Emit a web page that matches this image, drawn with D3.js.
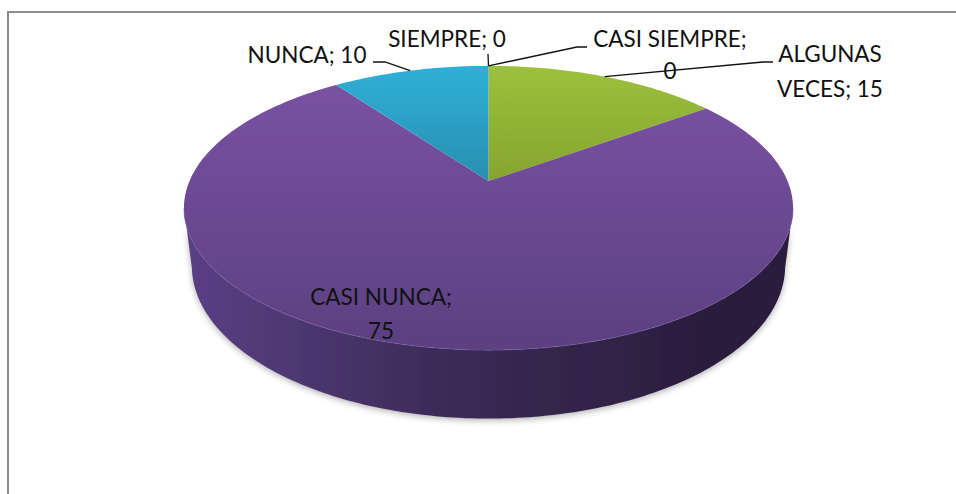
<!DOCTYPE html>
<html>
<head>
<meta charset="utf-8">
<script src="https://d3js.org/d3.v7.min.js"></script>
<style>
html,body{margin:0;padding:0;background:#fff;overflow:hidden}
svg{display:block}
text{font-family:Lato,"Open Sans",sans-serif;font-size:22.5px;fill:#111}
</style>
</head>
<body>
<div id="chart"></div>
<script>
const categories = ["SIEMPRE", "CASI SIEMPRE", "ALGUNAS VECES", "CASI NUNCA", "NUNCA"];
const values = [0, 0, 15, 75, 10];
const sliceTop = ["#d04a47", "#8a6d3b", "#9dc13d", "#7c53a6", "#2fb0d8"];
const sliceBottom = ["#b03a38", "#6f5730", "#85a42e", "#5b4080", "#2a8fb0"];
const labelLines = [["SIEMPRE; 0"], ["CASI SIEMPRE;", "0"], ["ALGUNAS", "VECES; 15"], ["CASI NUNCA;", "75"], ["NUNCA; 10"]];

const W = 956, H = 494;
// label placement: anchor x, first baseline, line gap, and leader elbow points
const labelLayout = [
  {x: 447, y: 47, gap: 0, leader: [[488, 54]]},
  {x: 670, y: 47, gap: 32, leader: [[587, 47], [577, 47]]},
  {x: 830, y: 62, gap: 35, leader: [[773, 62], [763, 62]]},
  {x: 381, y: 305, gap: 34, leader: null},
  {x: 307, y: 63, gap: 0, leader: [[373, 62], [385, 62]]}
];

const svg = d3.select("#chart").append("svg").attr("width", W).attr("height", H);
const defs = svg.append("defs");
defs.append("filter").attr("id", "shadow").attr("x", "-5%").attr("y", "-5%").attr("width", "110%").attr("height", "115%")
  .append("feGaussianBlur").attr("stdDeviation", 3);
defs.append("filter").attr("id", "soft").attr("x", "-2%").attr("y", "-2%").attr("width", "104%").attr("height", "104%")
  .append("feGaussianBlur").attr("stdDeviation", 0.6);

// perspective disc: plane coordinates projected on to the page
const cx = 488.5;
function projector(apexY, A, B, p) {
  return a => {
    const X = Math.sin(a), Y = Math.cos(a), w = 1 + p * Y;
    return [cx + A * X / w, apexY - B * Y / w];
  };
}
const topP = 0.19;
const topRim = projector(181, 299, 137, topP);
const bottomRim = projector(239, 292, 148, 0.176);
const line = d3.line();
const sample = (f, a0, a1) => {
  const n = Math.max(2, Math.ceil(Math.abs(a1 - a0) * 60));
  return d3.range(n + 1).map(i => f(a0 + (a1 - a0) * i / n));
};

// frame
svg.append("path").attr("d", `M${W},12H8V${H}`).attr("fill", "none").attr("stroke", "#8c8c8c").attr("stroke-width", 2);

// wall
const ext = Math.acos(-topP);
const wallPts = sample(topRim, ext, 2 * Math.PI - ext).concat(sample(bottomRim, 2 * Math.PI - ext, ext));
svg.append("path").attr("d", line(wallPts) + "Z").attr("fill", "#999").attr("opacity", 0.75)
  .attr("transform", "translate(0,2)").attr("filter", "url(#shadow)");

const wallGrad = defs.append("linearGradient").attr("id", "wall").attr("gradientUnits", "userSpaceOnUse")
  .attr("x1", cx - 300).attr("x2", cx + 300).attr("y1", 0).attr("y2", 0);
[[0, "#5a3f85"], [0.18, "#4d3771"], [0.42, "#3c2b58"], [0.62, "#33254a"], [0.85, "#2c1d3e"], [1, "#2a1b3c"]]
  .forEach(s => wallGrad.append("stop").attr("offset", s[0]).attr("stop-color", s[1]));
const pieG = svg.append("g").attr("filter", "url(#soft)");
pieG.append("path").attr("d", line(wallPts) + "Z").attr("fill", "url(#wall)");

// slices
const pie = d3.pie().sort(null).value(d => d)(values);
categories.forEach((c, i) => {
  const g = defs.append("linearGradient").attr("id", "s" + i).attr("gradientUnits", "userSpaceOnUse")
    .attr("x1", 0).attr("x2", 0).attr("y1", 65).attr("y2", i === 3 ? 350 : 181);
  g.append("stop").attr("offset", 0).attr("stop-color", sliceTop[i]);
  g.append("stop").attr("offset", 1).attr("stop-color", sliceBottom[i]);
});
pieG.selectAll("path.slice").data(pie).join("path").attr("class", "slice")
  .attr("d", d => {
    if (d.endAngle === d.startAngle) return null;
    return "M" + cx + ",181L" + line(sample(topRim, d.startAngle, d.endAngle)).slice(1) + "Z";
  })
  .attr("fill", (d, i) => `url(#s${i})`);
// faint lit rim on the front edge
pieG.append("path").attr("d", line(sample(topRim, ext, 2 * Math.PI - ext))).attr("fill", "none")
  .attr("stroke", "#7d5fa8").attr("stroke-width", 1).attr("opacity", 0.5);

// leader lines start from each slice's rim midpoint
pie.forEach((d, i) => {
  const L = labelLayout[i];
  if (!L.leader) return;
  const pts = [topRim((d.startAngle + d.endAngle) / 2), ...L.leader.slice().reverse()];
  svg.append("path").attr("d", line(pts)).attr("fill", "none").attr("stroke", "#111").attr("stroke-width", 1.3);
});

// labels
labelLines.forEach((lines, i) => {
  const L = labelLayout[i];
  lines.forEach((t, j) => {
    svg.append("text").attr("x", L.x).attr("y", L.y + j * L.gap).attr("text-anchor", "middle").text(t);
  });
});
</script>
</body>
</html>
